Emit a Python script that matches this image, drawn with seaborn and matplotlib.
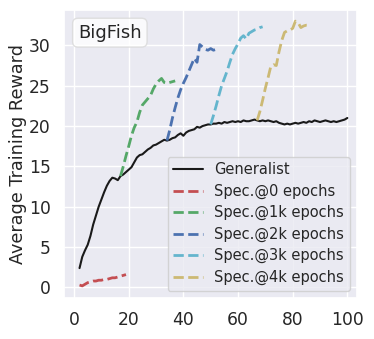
import numpy as np
import pandas as pd
import matplotlib
matplotlib.use("Agg")
import matplotlib.pyplot as plt
import seaborn as sns

# generalist curve, epochs (x100) vs reward
gen_x = list(range(2, 101))
gen_y = [2.4, 3.8, 4.6, 5.3, 6.4, 7.8, 8.9, 10.0, 10.9, 11.8,
         12.6, 13.2, 13.6, 13.5, 13.3, 13.8, 14.0, 14.3, 14.6, 14.9,
         15.5, 16.1, 16.4, 16.5, 16.8, 17.1, 17.3, 17.6, 17.7, 17.9,
         18.1, 18.3, 18.2, 18.3, 18.5, 18.6, 18.9, 19.1, 18.8, 19.2,
         19.4, 19.5, 19.6, 19.9, 19.8, 20.0, 20.1, 20.2, 20.2, 20.3,
         20.3, 20.4, 20.3, 20.5, 20.4, 20.5, 20.6, 20.5, 20.6, 20.5,
         20.7, 20.6, 20.6, 20.7, 20.8, 20.7, 20.6, 20.7, 20.6, 20.7,
         20.6, 20.5, 20.6, 20.4, 20.3, 20.2, 20.3, 20.2, 20.3, 20.4,
         20.3, 20.4, 20.5, 20.4, 20.6, 20.5, 20.7, 20.6, 20.5, 20.6,
         20.7, 20.6, 20.5, 20.6, 20.5, 20.6, 20.7, 20.8, 21.0]

spec0_x = list(range(2, 20))
spec0_y = [0.3, 0.2, 0.4, 0.6, 0.7, 0.8, 0.8, 0.9, 0.9, 1.0,
           1.0, 1.1, 1.2, 1.2, 1.3, 1.4, 1.5, 1.6]

spec1_x = list(range(17, 38))
spec1_y = [13.8, 15.0, 16.3, 17.5, 18.8, 19.8, 20.5, 21.7, 22.6, 23.0,
           23.4, 23.8, 24.6, 25.2, 25.6, 25.9, 25.4, 25.3, 25.4, 25.5, 25.6]

spec2_x = list(range(34, 53))
spec2_y = [18.2, 19.5, 21.0, 22.3, 23.5, 24.5, 25.3, 26.0, 26.8, 27.6,
           28.4, 27.9, 30.1, 29.8, 29.5, 29.4, 29.6, 29.4, 29.5]

spec3_x = list(range(50, 70))
spec3_y = [20.2, 21.3, 22.5, 23.8, 25.0, 25.9, 26.8, 27.9, 28.9, 29.6,
           30.2, 30.9, 31.2, 30.8, 31.5, 31.7, 31.9, 32.0, 32.2, 32.3]

spec4_x = list(range(67, 87))
spec4_y = [20.7, 21.8, 23.2, 24.7, 26.0, 27.4, 27.6, 27.5, 29.2, 30.6,
           31.6, 31.8, 31.9, 32.1, 33.0, 32.8, 32.2, 32.4, 32.5, 32.5]

spec_labels = ['Spec.@0 epochs', 'Spec.@1k epochs', 'Spec.@2k epochs',
               'Spec.@3k epochs', 'Spec.@4k epochs']

sns.set_theme(style='darkgrid')
plt.rcParams['font.family'] = ['DejaVu Sans']

fig = plt.figure(figsize=(3.74, 3.39), dpi=100)
ax = fig.add_axes([0.171, 0.121, 0.784, 0.85])

sns.lineplot(x=gen_x, y=gen_y, color='k', lw=1.5, label='Generalist', ax=ax)
specs = [(spec0_x, spec0_y, 'r'), (spec1_x, spec1_y, 'g'), (spec2_x, spec2_y, 'b'),
         (spec3_x, spec3_y, 'c'), (spec4_x, spec4_y, 'y')]
for (sx, sy, c), lab in zip(specs, spec_labels):
    sns.lineplot(x=sx, y=sy, color=c, lw=2.0, linestyle='--', label=lab, ax=ax)

ax.set_xlim(-3.7, 103.6)
ax.set_ylim(-1.3, 34.4)
ax.set_xticks([0, 20, 40, 60, 80, 100])
ax.set_yticks([0, 5, 10, 15, 20, 25, 30])
ax.tick_params(labelsize=12.3)
ax.set_ylabel('Average Training Reward', fontsize=12.7, labelpad=1)

ax.text(0.048, 0.952, 'BigFish', transform=ax.transAxes, ha='left', va='top',
        fontsize=13, color='0.15',
        bbox=dict(boxstyle='round,pad=0.3', fc='white', ec='0.85', alpha=0.8))

ax.legend(loc='lower right', fontsize=10.5, labelspacing=0.43)

fig.savefig('out.png', dpi=100)
